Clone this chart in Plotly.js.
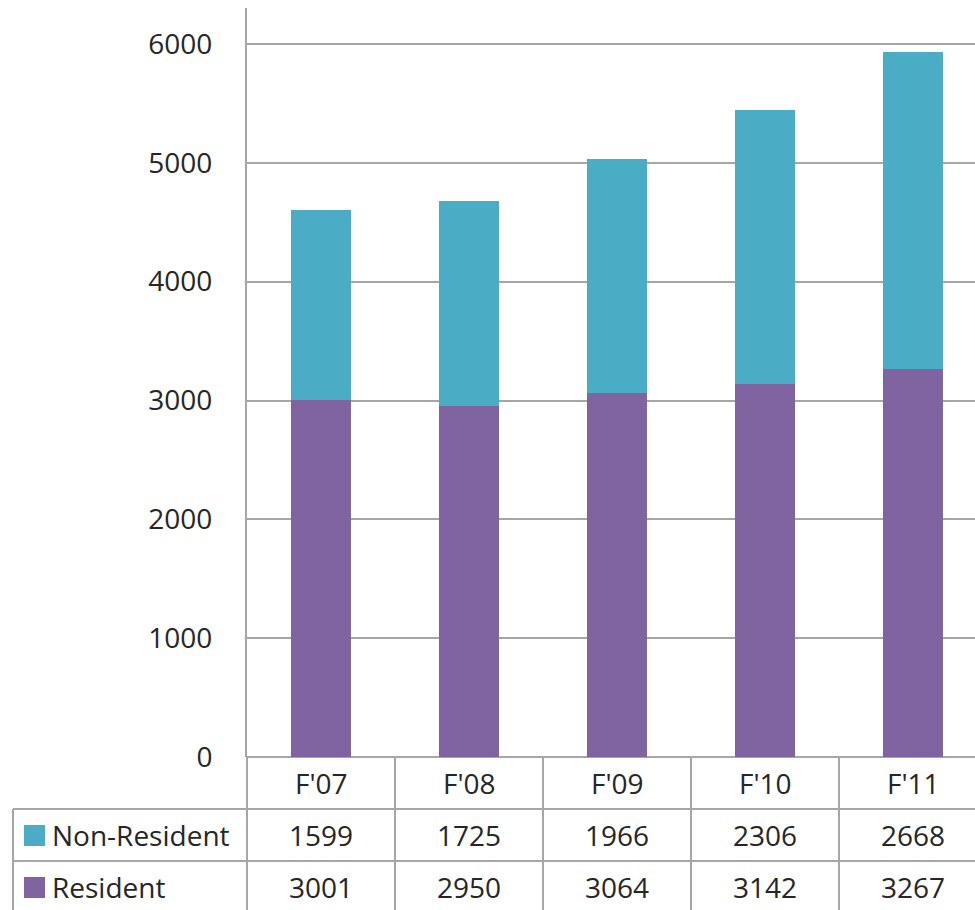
<!DOCTYPE html>
<html>
<head>
<meta charset="utf-8">
<script src="https://cdn.plot.ly/plotly-3.0.1.min.js"></script>
<style>
  html, body { margin: 0; padding: 0; background: #fff; overflow: hidden; }
  #chart { width: 990px; height: 910px; }
</style>
</head>
<body>
<div id="chart"></div>
<script>
// Enrollment by fiscal year, stacked: residents at the bottom, non-residents on top
const years = ["F'07", "F'08", "F'09", "F'10", "F'11"];
const nonResident = [1599, 1725, 1966, 2306, 2668];
const resident = [3001, 2950, 3064, 3142, 3267];
const seriesNames = ["Non-Resident", "Resident"];
const yTicks = [0, 1000, 2000, 3000, 4000, 5000, 6000];

const colNR = '#4BACC6';
const colRes = '#8064A2';
const lineCol = '#A6A6A6';
const textCol = '#262626';
const FONT = 'Open Sans, Liberation Sans, sans-serif';
const FS = 28;

// plot geometry in pixels
const W = 990, H = 910;
const L = 247, R = 3, T = 8, B = 153;
const plotH = H - T - B;           // 749
const plotW = W - L - R;           // 740
const py = (pix) => (H - B - pix) / plotH;   // page pixel row -> paper y
const px = (pix) => (pix - L) / plotW;       // page pixel col -> paper x

const traces = [
  { type: 'bar', x: years, y: resident, name: seriesNames[1],
    marker: { color: colRes }, width: 0.405, hoverinfo: 'x+y+name' },
  { type: 'bar', x: years, y: nonResident, name: seriesNames[0],
    marker: { color: colNR }, width: 0.405, hoverinfo: 'x+y+name' }
];

// data table beneath the axis
const rowHeaderY = 783, rowNRY = 835, rowResY = 887;
const shapes = [];
const annotations = [];
const LW = 2;

// horizontal rules of the table
[809, 861].forEach(r => shapes.push({
  type: 'line', xref: 'paper', yref: 'paper',
  x0: px(13), x1: 1.05, y0: py(r), y1: py(r),
  line: { color: lineCol, width: LW }
}));
// left border of the legend column
shapes.push({ type: 'line', xref: 'paper', yref: 'paper',
  x0: px(13), x1: px(13), y0: py(809), y1: py(H + 5),
  line: { color: lineCol, width: LW } });
// axis line continued down through the table
shapes.push({ type: 'line', xref: 'paper', yref: 'paper',
  x0: 0, x1: 0, y0: 0, y1: py(H + 5),
  line: { color: lineCol, width: LW } });
// column dividers between categories
years.forEach((y, i) => shapes.push({
  type: 'line', xref: 'x', yref: 'paper',
  x0: i + 0.5, x1: i + 0.5, y0: 0, y1: py(H + 5),
  line: { color: lineCol, width: LW }
}));

// legend keys
const keyRows = [[seriesNames[0], colNR, rowNRY], [seriesNames[1], colRes, rowResY]];
keyRows.forEach(([name, col, ry]) => {
  shapes.push({ type: 'rect', xref: 'paper', yref: 'paper',
    x0: px(24), x1: px(45), y0: py(ry - 10), y1: py(ry + 11),
    fillcolor: col, line: { width: 0 } });
  annotations.push({ xref: 'paper', yref: 'paper', x: px(50), y: py(ry),
    xanchor: 'left', yanchor: 'middle', text: name, showarrow: false,
    font: { family: FONT, size: FS, color: textCol } });
});

// category headers and values
years.forEach((yr, i) => {
  annotations.push({ xref: 'x', yref: 'paper', x: i, y: py(rowHeaderY),
    text: yr, showarrow: false, xanchor: 'center', yanchor: 'middle',
    font: { family: FONT, size: FS, color: textCol } });
  annotations.push({ xref: 'x', yref: 'paper', x: i, y: py(rowNRY),
    text: String(nonResident[i]), showarrow: false, xanchor: 'center', yanchor: 'middle',
    font: { family: FONT, size: FS, color: textCol } });
  annotations.push({ xref: 'x', yref: 'paper', x: i, y: py(rowResY),
    text: String(resident[i]), showarrow: false, xanchor: 'center', yanchor: 'middle',
    font: { family: FONT, size: FS, color: textCol } });
});

const layout = {
  width: W, height: H,
  margin: { l: L, r: R, t: T, b: B, pad: 0 },
  paper_bgcolor: '#fff', plot_bgcolor: '#fff',
  barmode: 'stack',
  showlegend: false,
  xaxis: {
    type: 'category', range: [-0.5, 4.5], fixedrange: true,
    showticklabels: false, showgrid: false, zeroline: false, showline: false,
    ticks: ''
  },
  yaxis: {
    range: [0, 6303], fixedrange: true,
    tickmode: 'array', tickvals: yTicks, ticktext: yTicks.map(String),
    showgrid: true, gridcolor: lineCol, gridwidth: LW,
    zeroline: true, zerolinecolor: lineCol, zerolinewidth: LW,
    showline: true, linecolor: lineCol, linewidth: LW,
    ticks: '', ticklabelstandoff: 27,
    tickfont: { family: FONT, size: FS, color: textCol }
  },
  shapes: shapes,
  annotations: annotations
};

Plotly.newPlot('chart', traces, layout, { displayModeBar: false, staticPlot: true });
</script>
</body>
</html>
